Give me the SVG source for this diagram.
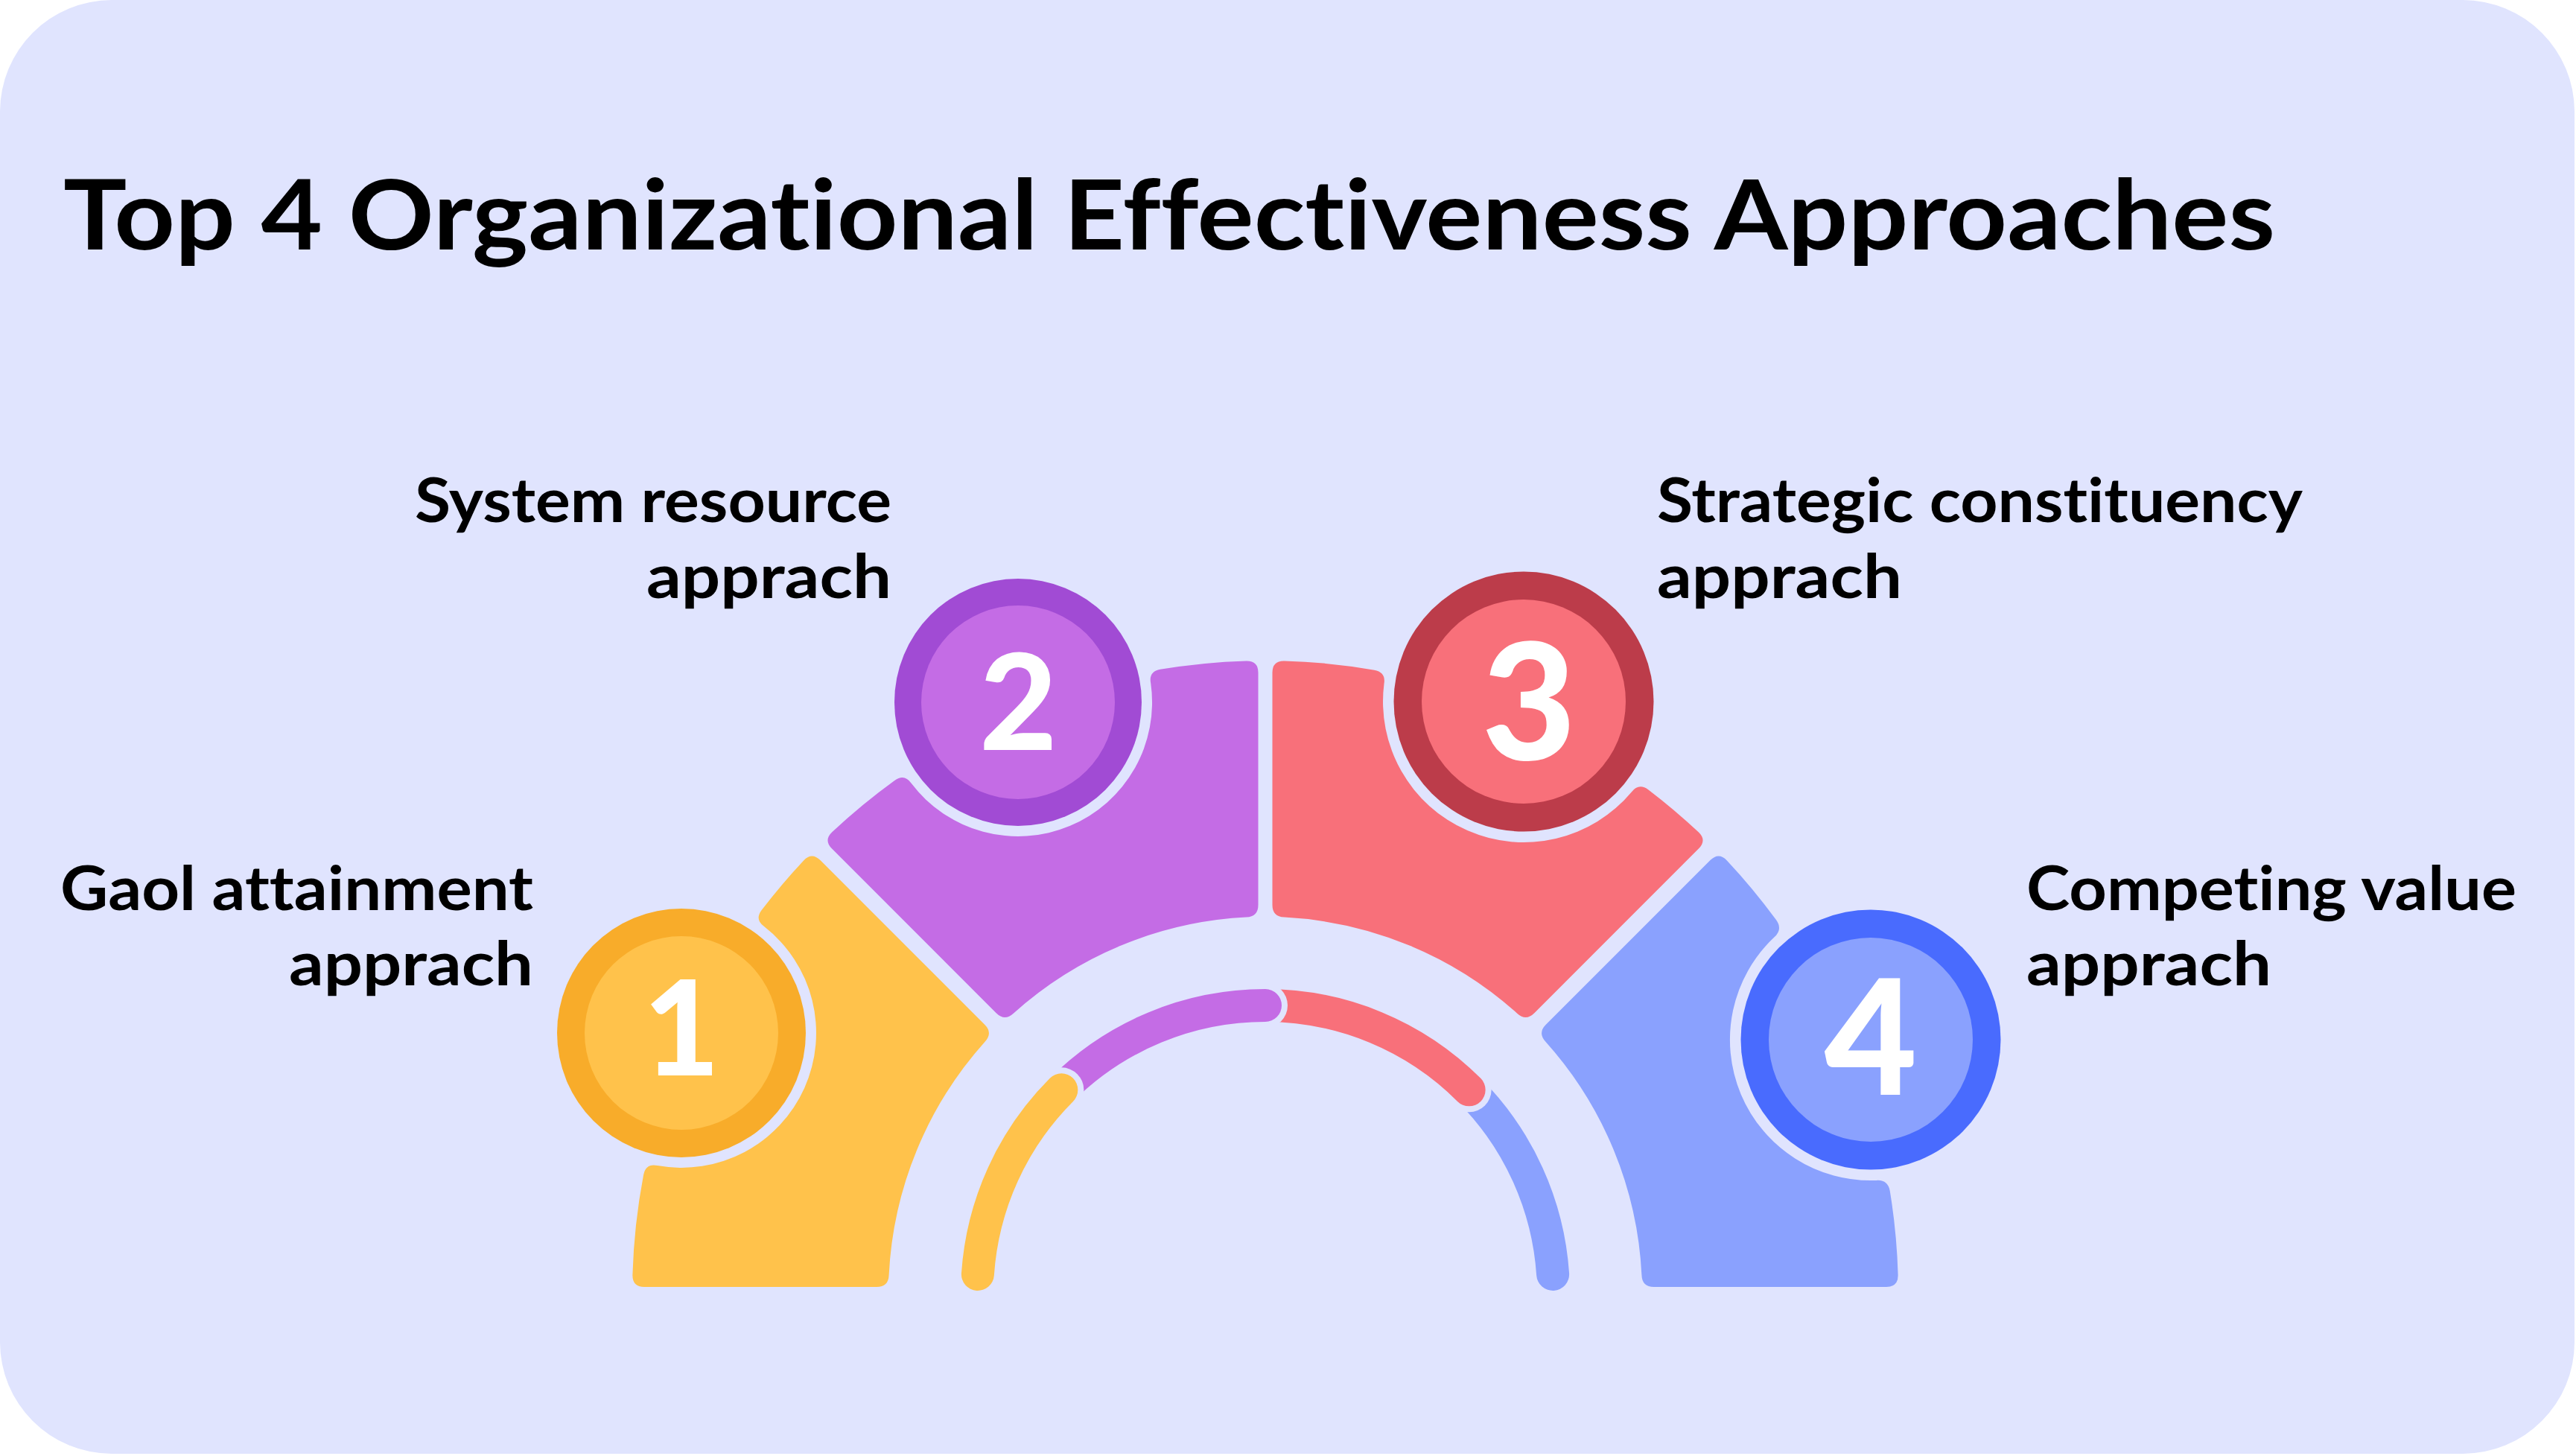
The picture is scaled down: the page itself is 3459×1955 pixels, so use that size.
<svg xmlns="http://www.w3.org/2000/svg" width="3459" height="1955" viewBox="0 0 3459 1955">
<style>
.t{font-family:Lato,"Noto Sans","Liberation Sans",sans-serif;font-weight:700;fill:#000;font-variant-ligatures:none;font-feature-settings:"liga" 0,"clig" 0}
.d{font-family:Lato,"Noto Sans","Liberation Sans",sans-serif;font-weight:900;fill:#fff;text-anchor:middle}
.trk{fill:none;stroke-width:44;stroke-linecap:round}
.gap{fill:#E0E4FE}
</style>
<rect x="0" y="0" width="3459" height="1955" fill="#ffffff"/>
<rect id="background" x="0" y="0" width="3457" height="1952" rx="150" ry="150" fill="#E0E4FE"/>
<text class="t" x="85" y="335" font-size="130" textLength="2970" lengthAdjust="spacingAndGlyphs">Top 4 Organizational Effectiveness Approaches</text>

<g id="node-1">
<path fill="#FFC24B" d="M 865.05,1728 L 1177.1,1728 Q 1193.1,1728 1193.6,1712.0 A 506 506 0 0 1 1322.6,1398.8 Q 1333.5,1387.0 1322.2,1375.7 L 1101.5,1155.1 Q 1090.2,1143.8 1079.1,1155.4 A 850 850 0 0 0 1022.7,1222.1 Q 1013.1,1234.9 1026.1,1244.1 A 181 181 0 0 1 882.9,1565.1 Q 867.3,1561.7 864.1,1577.4 A 850 850 0 0 0 849.37,1712.0 Q 849.05,1728 865.05,1728 Z"/>
<circle cx="915" cy="1387" r="167" fill="#F8AC2A"/>
<circle cx="915" cy="1387" r="130" fill="#FFC24B"/>
<text class="d" x="915" y="1444" font-size="177">1</text>
<text class="t" text-anchor="end" font-size="83"><tspan x="716" y="1222" textLength="635" lengthAdjust="spacingAndGlyphs">Gaol attainment</tspan><tspan x="716" y="1323" textLength="328" lengthAdjust="spacingAndGlyphs">apprach</tspan></text>
</g>

<g id="node-2">
<path fill="#C46CE5" d="M 1337.7,1360.2 L 1117.1,1139.5 Q 1105.8,1128.2 1117.3,1117.3 A 850 850 0 0 1 1201.3,1048.0 Q 1214.4,1038.6 1223.5,1051.6 A 180 180 0 0 0 1545.2,917.3 Q 1542.2,901.6 1558.0,898.8 A 850 850 0 0 1 1673.5,887.4 Q 1689.5,887.05 1689.5,903.05 L 1689.5,1215.1 Q 1689.5,1231.1 1673.5,1231.6 A 506 506 0 0 0 1360.8,1360.7 Q 1349.0,1371.5 1337.7,1360.2 Z"/>
<circle cx="1367" cy="943" r="166" fill="#A14BD4"/>
<circle cx="1367" cy="943" r="130" fill="#C46CE5"/>
<text class="d" x="1367.5" y="1007" font-size="180">2</text>
<text class="t" text-anchor="end" font-size="83"><tspan x="1197" y="701" textLength="640" lengthAdjust="spacingAndGlyphs">System resource</tspan><tspan x="1197" y="803" textLength="329" lengthAdjust="spacingAndGlyphs">apprach</tspan></text>
</g>

<g id="node-3">
<path fill="#F8707A" d="M 2060.3,1360.2 L 2280.9,1139.5 Q 2292.2,1128.2 2280.7,1117.3 A 850 850 0 0 0 2213.5,1060.4 Q 2200.6,1050.8 2190.8,1063.4 A 189 189 0 0 1 1858.5,918.3 Q 1861.2,902.6 1845.4,899.7 A 850 850 0 0 0 1724.5,887.4 Q 1708.5,887.05 1708.5,903.05 L 1708.5,1215.1 Q 1708.5,1231.1 1724.5,1231.6 A 506 506 0 0 1 2037.2,1360.7 Q 2049.0,1371.5 2060.3,1360.2 Z"/>
<circle cx="2046" cy="942" r="174.5" fill="#BC3C4A"/>
<circle cx="2046" cy="942" r="137" fill="#F8707A"/>
<text class="d" x="2053" y="1020" font-size="218">3</text>
<text class="t" font-size="83"><tspan x="2225" y="701" textLength="867" lengthAdjust="spacingAndGlyphs">Strategic constituency</tspan><tspan x="2225" y="803" textLength="329" lengthAdjust="spacingAndGlyphs">apprach</tspan></text>
</g>

<g id="node-4">
<path fill="#8AA1FE" d="M 2532.95,1728 L 2220.9,1728 Q 2204.9,1728 2204.4,1712.0 A 506 506 0 0 0 2075.4,1398.8 Q 2064.5,1387.0 2075.8,1375.7 L 2296.5,1155.1 Q 2307.8,1143.8 2318.9,1155.4 A 850 850 0 0 1 2384.9,1235.0 Q 2394.3,1248.0 2382.3,1258.5 A 189 189 0 0 0 2519.2,1584.9 Q 2535.1,1583.6 2537.8,1599.4 A 850 850 0 0 1 2548.63,1712.0 Q 2548.95,1728 2532.95,1728 Z"/>
<circle cx="2512" cy="1396" r="174.5" fill="#496BFE"/>
<circle cx="2512" cy="1396" r="137" fill="#8AA1FE"/>
<text class="d" x="2512" y="1470" font-size="215">4</text>
<text class="t" font-size="83"><tspan x="2721" y="1222" textLength="658" lengthAdjust="spacingAndGlyphs">Competing value</tspan><tspan x="2721" y="1323" textLength="329" lengthAdjust="spacingAndGlyphs">apprach</tspan></text>
</g>

<g id="connectors">
<path class="trk" stroke="#8AA1FE" d="M 1972.65,1463.35 A 387 387 0 0 1 2085.1,1711.0"/>
<circle class="gap" cx="1972.65" cy="1463.35" r="30"/>
<path class="trk" stroke="#F8707A" d="M 1699,1350 A 387 387 0 0 1 1972.65,1463.35"/>
<circle class="gap" cx="1699" cy="1350" r="30"/>
<path class="trk" stroke="#C46CE5" d="M 1425.35,1463.35 A 387 387 0 0 1 1699,1350"/>
<circle class="gap" cx="1425.35" cy="1463.35" r="30"/>
<path class="trk" stroke="#FFC24B" d="M 1312.9,1711.0 A 387 387 0 0 1 1425.35,1463.35"/>
</g>
</svg>
